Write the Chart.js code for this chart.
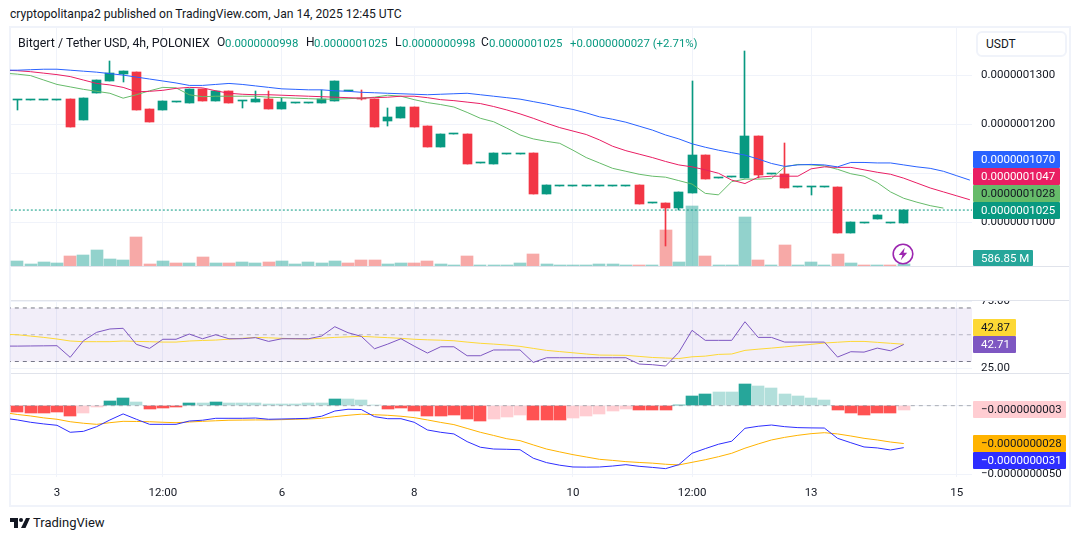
<!DOCTYPE html>
<html>
<head>
<meta charset="utf-8">
<title>Bitgert / Tether USD</title>
<script src="https://cdn.jsdelivr.net/npm/chart.js@4/dist/chart.umd.js"></script>
<style>
  html, body { margin: 0; padding: 0; background: #fff; }
  body { width: 1080px; height: 541px; position: relative; overflow: hidden; font-family: Roboto, sans-serif; color: #131722; }
  canvas { position: absolute; left: 0; }
  .abs { position: absolute; white-space: nowrap; }
  .frame { left: 9px; top: 26px; width: 1058px; height: 477px; border: 2px solid #f0f3fa; }
  .sep { position: absolute; left: 11px; width: 1058px; height: 1px; background: #e0e3eb; }
  .tag { position: absolute; left: 973px; height: 17px; line-height: 17px; padding-left: 8px; box-sizing: border-box; font-size: 11.5px; border-radius: 1px; }
  .legend { position: absolute; top: 35px; white-space: nowrap; font-size: 12px; z-index: 2; }
  .val { font-size: 11.4px; color: #089981; top: 35.5px; }
</style>
</head>
<body>
<div class="abs frame"></div>
<div class="abs" style="left:10px;top:7px;font-size:12.1px;">cryptopolitanpa2 published on TradingView.com, Jan 14, 2025 12:45 UTC</div>
<canvas id="priceChart" width="1080" height="238" style="top:28px"></canvas>
<canvas id="rsiChart" width="1080" height="72" style="top:301px"></canvas>
<canvas id="macdChart" width="1080" height="133" style="top:374px"></canvas>
<div class="legend" style="left:18px;font-size:12.4px;">Bitgert / Tether USD, 4h, POLONIEX</div>
<div class="legend" style="left:217px;">O</div><div class="legend val" style="left:225px;">0.0000000998</div>
<div class="legend" style="left:306px;">H</div><div class="legend val" style="left:314px;">0.0000001025</div>
<div class="legend" style="left:395px;">L</div><div class="legend val" style="left:402px;">0.0000000998</div>
<div class="legend" style="left:481px;">C</div><div class="legend val" style="left:489px;">0.0000001025</div>
<div class="legend val" style="left:570px;">+0.0000000027 (+2.71%)</div>
<div class="sep" style="top:266px"></div>
<div class="sep" style="top:300px"></div>
<div class="sep" style="top:373px"></div>
<div class="abs" style="left:976px;top:31px;width:91px;height:26px;box-sizing:border-box;border:2px solid #f0f3fa;border-radius:6px;font-size:12px;line-height:22px;padding-left:8px;background:#fff;">USDT</div>
<div class="tag" style="top:151px;width:87px;background:#2962ff;color:#fff;">0.0000001070</div>
<div class="tag" style="top:168px;width:87px;background:#e91e63;color:#fff;">0.0000001047</div>
<div class="tag" style="top:185px;width:87px;background:#66bb6a;color:#131722;">0.0000001028</div>
<div class="tag" style="top:202px;width:87px;background:#089981;color:#fff;">0.0000001025</div>
<div class="tag" style="top:250px;width:60px;height:16px;line-height:16px;background:#26a69a;color:#fff;">586.85 M</div>
<div class="tag" style="top:319px;width:43px;background:#fdd835;color:#131722;">42.87</div>
<div class="tag" style="top:336px;width:43px;background:#7e57c2;color:#fff;">42.71</div>
<div class="tag" style="top:401px;width:93px;background:#ffcdd2;color:#131722;">−0.0000000003</div>
<div class="tag" style="top:435px;width:93px;background:#ffb300;color:#131722;">−0.0000000028</div>
<div class="tag" style="top:452px;width:93px;background:#2e2eff;color:#fff;">−0.0000000031</div>
<svg class="abs" style="left:892px;top:243px" width="22" height="22" viewBox="0 0 22 22">
  <circle cx="11" cy="11" r="9.8" fill="#fff" stroke="#9c27b0" stroke-width="1.6"/>
  <path d="M12.8 4.8 L6.8 12 L10.4 12 L8.8 17.2 L15.2 9.8 L11.6 9.8 Z" fill="#9c27b0"/>
</svg>
<svg class="abs" style="left:10px;top:518px" width="20" height="10" viewBox="0 0 20 10">
  <path d="M0 0 H8 V10 H4 V4 H0 Z M16 0 H20 L15.5 10 H11 Z" fill="#131722"/>
  <circle cx="11" cy="2" r="2" fill="#131722"/>
</svg>
<div class="abs" style="left:33px;top:515px;font-size:13px;">TradingView</div>

<script>
// all prices and macd values are in units of 0.0000000001
const opens = [1250,1250,1250,1250,1251,1208,1264,1288,1302,1306,
  1231,1229,1246,1243,1272,1247,1267,1247,1245,1251,
  1231,1244,1244,1243,1247,1267,1254,1251,1207,1213,
  1235,1196,1154,1179,1180,1120,1119,1140,1140,1141,
  1058,1075,1075,1075,1075,1075,1075,1076,1039,1039,
  1030,1060,1137,1090,1092,1090,1176,1098,1098,1071,
  1071,1071,1072,978,998,1007,998,998];
const highs = [1250,1250,1250,1250,1251,1253,1290,1329,1308,1306,
  1231,1247,1246,1272,1272,1267,1267,1247,1267,1267,
  1253,1244,1244,1270,1288,1267,1270,1251,1233,1235,
  1235,1196,1180,1179,1180,1120,1141,1140,1140,1141,
  1076,1075,1075,1075,1075,1075,1075,1076,1039,1039,
  1062,1288,1137,1090,1092,1349,1176,1098,1161,1071,
  1071,1071,1072,1001,998,1015,998,1025];
const lows = [1229,1250,1250,1250,1195,1208,1264,1288,1286,1229,
  1204,1229,1246,1243,1247,1247,1243,1233,1245,1231,
  1231,1244,1244,1243,1247,1267,1250,1195,1197,1213,
  1195,1154,1154,1179,1119,1120,1119,1140,1140,1058,
  1058,1075,1075,1075,1075,1075,1075,1038,1039,952,
  1026,1060,1088,1090,1092,1090,1090,1098,1070,1071,
  1056,1071,978,978,998,1007,998,998];
const closes = [1250,1250,1250,1250,1195,1253,1290,1304,1308,1229,
  1204,1247,1246,1272,1247,1267,1243,1247,1251,1231,
  1245,1244,1244,1251,1288,1267,1252,1195,1214,1235,
  1195,1154,1180,1179,1119,1120,1141,1140,1140,1058,
  1076,1075,1075,1075,1075,1075,1075,1038,1039,1030,
  1062,1137,1088,1090,1092,1176,1096,1098,1070,1071,
  1071,1071,978,1001,998,1015,998,1025];
// volume in millions
const volumes = [1175,425,925,675,2425,2675,3925,1675,1425,7175,
  425,1175,675,675,2175,675,675,925,675,925,
  1175,425,925,675,1175,675,1600,1575,575,825,
  825,1325,575,325,2575,325,325,325,825,3075,
  575,325,325,325,575,575,325,325,325,9075,
  1075,15075,2575,325,325,12325,1575,325,5325,325,
  1075,325,3075,825,325,325,325,587];
const redVolumeDojis = [12,25,64,66];

// moving averages start one bar before the first candle and run past the last one
const blueLine = [1310,1310,1311,1312,1312,1310,1308,1306,1303,1300,1296,1292,1288,1284,1279,1279,1281,1283,1281,1278,
  1275,1272,1271,1270,1270,1268,1267,1265,1264,1263,1262,1261,1260,1261,1262,1263,1260,1257,1254,1251,
  1246,1241,1235,1230,1223,1215,1210,1204,1196,1188,1178,1170,1160,1153,1147,1142,1137,1129,1120,1114,
  1117,1118,1117,1113,1122,1122,1121,1121,1117,1113,1110,1104,1095,1086];
const redLine = [1310,1309,1307,1304,1301,1297,1290,1283,1280,1275,1266,1267,1269,1273,1275,1274,1268,1263,1261,1260,
  1260,1259,1258,1257,1256,1255,1254,1253,1254,1255,1257,1257,1254,1250,1248,1245,1242,1236,1229,1221,
  1212,1202,1193,1186,1179,1168,1155,1146,1139,1132,1124,1117,1113,1107,1100,1086,1079,1092,1094,1094,
  1094,1109,1113,1112,1112,1107,1102,1098,1090,1080,1070,1062,1054,1046];
const greenLine = [1304,1302,1299,1290,1281,1276,1271,1267,1263,1253,1260,1268,1275,1274,1260,1256,1257,1257,1257,1257,
  1255,1254,1253,1252,1251,1251,1252,1253,1255,1259,1257,1250,1244,1240,1235,1224,1212,1205,1192,1178,
  1170,1165,1161,1147,1132,1121,1110,1104,1098,1094,1092,1085,1078,1059,1056,1083,1088,1088,1089,1113,
  1118,1117,1115,1108,1099,1094,1081,1062,1049,1041,1034,1029];
const lastPrice = 1025;

const rsiValues = [41.5,41.5,41.6,41.7,41.8,33.1,45.5,51.8,54.3,54.8,42.8,39.8,46.6,46.6,50.5,47,50,47,47,47.8,
  45,47,47,47,49,56,51.5,48.8,39.5,43,47,41.5,36.3,41,41,34.3,34.3,38.6,38.6,38.6,
  29.3,32.8,32.8,32.8,32.8,32.8,32.8,32.8,28.1,27.6,26.6,36.8,53.3,45.8,45.8,45.8,59.7,48,48,44.5,
  44.5,44.5,44.5,33.3,37.3,37,40,38,42.7];
const rsiAverage = [50.3,50,49,48,46.8,45.3,44.8,44.8,44.8,45.3,45,44.8,44.5,44.5,45.3,45.7,46,46.7,47.3,48,
  47.7,47.3,47,46.8,47.4,48,48.4,48.8,48.3,47.8,47.3,46.6,46.2,45.9,45.5,44.5,43.6,43,42.3,41.3,
  39.8,38.3,37.4,36.5,35.6,34.8,34.7,34.6,33.8,33,32.6,32.2,33.5,34,35.3,35.6,38.3,39.2,40,40.9,
  41.8,42.8,43.8,44.4,45,45,44.3,43.6,42.9];
const rsiLevels = [70, 50, 30];

const macdHistogram = [-4.6,-5.3,-5.3,-4.6,-7.5,-5.3,-1.2,3.4,5.6,2.7,
  -2.4,-1.7,-0.9,2,2,2.7,2,2,2,1.2,
  1.2,1.2,2,2,4.9,4.9,4.2,0.7,-2.4,-1.7,
  -3.9,-7.5,-7.5,-6.8,-9.7,-11.2,-9.7,-8.2,-6.8,-10.4,
  -10.4,-10.4,-9,-7.5,-6,-3.9,-2.4,-3.1,-3.1,-3.1,
  0.4,7.1,8.5,9.7,9.7,15.8,14.4,12.9,8.4,7.1,
  5.6,4.2,-3.4,-5.6,-7.1,-5.6,-5.6,-3.4];
const macdLightBars = [5,6,9,14,16,17,18,19,20,21,22,23,25,26,27,36,37,38,42,43,44,45,46,53,54,56,57,58,59,60,61,67];
const macdLine = [-9.1,-10.4,-12.1,-13.3,-14.3,-19.4,-18.7,-15.3,-10.4,-6,-9.9,-13.6,-13.6,-13.6,-11.2,-10.6,-9.2,-9.2,-9.2,-9,
  -9.9,-9.7,-9.5,-9.2,-7.7,-3.9,-2.6,-2.8,-8,-9.5,-9.5,-12.1,-17.7,-19.4,-20.6,-26.2,-30.3,-31.6,-31.8,-32.1,
  -38.3,-41.5,-43.4,-44.7,-44.8,-44.7,-44,-43,-44.2,-45,-45.9,-43,-34.7,-31.3,-28.1,-25.9,-16.5,-15,-14.1,-15.3,
  -16,-16.2,-16.3,-23.8,-27,-30.1,-30.8,-32.3,-30.6];
const macdSignal = [-5,-6.4,-7.5,-8.9,-9.9,-11.7,-12.8,-13.6,-12.4,-11.4,-11.5,-11.7,-12.1,-12.4,-11.9,-11.4,-11,-10.6,-10.5,-10.4,
  -10.4,-10.2,-9.9,-9.7,-9.2,-8,-7,-6.2,-6.6,-7,-7.7,-8.7,-10.4,-12.2,-13.8,-16.6,-19.4,-21.7,-24.1,-25.5,
  -28.6,-31.6,-33.7,-35.7,-37.4,-39.1,-39.9,-40.8,-41.4,-41.9,-42.7,-43.2,-41.3,-39.4,-37.2,-34.7,-31,-27.9,-25,-23.1,
  -21.6,-20.4,-19.7,-20.6,-22.1,-23.8,-25,-26.5,-27.6];

const timeTicks = [3, 11, 20, 30, 42, 51, 60, 71];
const timeLabels = ['3', '12:00', '6', '8', '10', '12:00', '13', '15'];
const priceTicks = [1000, 1100, 1200, 1300];
const rsiTicks = [25, 75];
const macdTicks = [-50, 0];

const FONT = { family: 'Roboto, sans-serif', size: 11.5 };
const GRID = '#f0f3fa';
const TEXT = '#131722';
const UP = '#089981';
const DOWN = '#f23645';

// round bars to whole pixels so candles and doji dashes stay crisp
const snapBars = {
  id: 'snapBars',
  afterDatasetsUpdate(chart) {
    chart.data.datasets.forEach((ds, d) => {
      if (ds.type !== 'bar') return;
      chart.getDatasetMeta(d).data.forEach(el => {
        const w = ds.barThickness;
        el.x = Math.round(el.x - w / 2) + w / 2;
        el.y = Math.round(el.y);
        el.base = Math.round(el.base);
        if (ds.minBarLength && el.y === el.base) el.base = el.y + ds.minBarLength;
      });
    });
  }
};

function xy(values, start) {
  return values.map((y, i) => ({ x: i + start, y: y }));
}

function bars(values, thickness, colors, order, extra) {
  return Object.assign({
    type: 'bar',
    data: values.map((y, i) => ({ x: i, y: y })),
    barThickness: thickness,
    backgroundColor: colors,
    grouped: false,
    borderWidth: 0,
    borderSkipped: false,
    order: order
  }, extra || {});
}

function line(values, start, color, order, extra) {
  return Object.assign({
    type: 'line',
    data: xy(values, start),
    borderColor: color,
    borderWidth: 1,
    pointRadius: 0,
    tension: 0,
    fill: false,
    order: order
  }, extra || {});
}

function level(value, color, dash, order, extra) {
  return line([value, value], 0, color, order, Object.assign({
    data: [{ x: -2, y: value }, { x: 74, y: value }],
    borderDash: dash
  }, extra || {}));
}

function xAxis(showLabels) {
  return {
    type: 'linear',
    offset: false,
    min: -0.55,
    max: 72.16,
    afterBuildTicks: s => { s.ticks = timeTicks.map(v => ({ value: v })); },
    afterFit: s => {
      s.height = showLabels ? 30 : 0;
      s.paddingLeft = 0;
      s.paddingRight = 0;
    },
    border: { display: false },
    grid: { color: GRID, drawTicks: false, offset: false },
    ticks: {
      display: showLabels,
      autoSkip: false,
      maxRotation: 0,
      padding: 9,
      color: TEXT,
      font: FONT,
      callback: v => timeLabels[timeTicks.indexOf(v)]
    }
  };
}

function yAxis(min, max, tickList, format) {
  return {
    position: 'right',
    min: min,
    max: max,
    afterBuildTicks: s => { s.ticks = tickList.map(v => ({ value: v })); },
    afterFit: s => {
      // labels at the pane edge are simply cut off, they must not shrink the pane
      s.width = 98;
      s.paddingTop = 0;
      s.paddingBottom = 0;
    },
    border: { display: false },
    grid: { color: GRID, drawTicks: false },
    ticks: { padding: 9, color: TEXT, font: FONT, autoSkip: false, callback: format }
  };
}

function smallPrice(v) {
  const text = (Math.abs(v) * 1e-10).toFixed(10);
  return v < 0 ? '\u2212' + text : text;
}

function makeChart(id, datasets, scales) {
  return new Chart(document.getElementById(id).getContext('2d'), {
    data: { datasets: datasets },
    plugins: [snapBars],
    options: {
      responsive: false,
      animation: false,
      events: [],
      layout: { autoPadding: false, padding: { left: 10, right: 10, top: 0, bottom: 0 } },
      plugins: { legend: { display: false }, tooltip: { enabled: false } },
      scales: scales
    }
  });
}

const candleColors = closes.map((c, i) => c < opens[i] ? DOWN : UP);
const volumeColors = closes.map((c, i) =>
  (c < opens[i] || redVolumeDojis.includes(i)) ? 'rgba(239,83,80,0.5)' : 'rgba(38,166,154,0.5)');
const macdColors = macdHistogram.map((v, i) => {
  const light = macdLightBars.includes(i);
  if (v >= 0) return light ? '#b2dfdb' : '#26a69a';
  return light ? '#ffcdd2' : '#ff5252';
});

makeChart('priceChart', [
  bars(volumes, 12, volumeColors, 10, { yAxisID: 'yVol' }),
  level(lastPrice, UP, [2, 2], 9, { yAxisID: 'y' }),
  bars(lows.map((l, i) => [l, highs[i]]), 1, candleColors, 8, { yAxisID: 'y' }),
  bars(opens.map((o, i) => [o, closes[i]]), 9, candleColors, 7, { yAxisID: 'y', minBarLength: 1 }),
  line(greenLine, -1, '#66bb6a', 3, { yAxisID: 'y' }),
  line(redLine, -1, '#e91e63', 2, { yAxisID: 'y' }),
  line(blueLine, -1, '#2962ff', 1, { yAxisID: 'y' })
], {
  x: xAxis(false),
  y: yAxis(911, 1396, priceTicks, smallPrice),
  yVol: { display: false, min: 0, max: 59500 }
});

makeChart('rsiChart', [
  level(rsiLevels[0], '#787b86', [4, 4], 5, { fill: { target: { value: rsiLevels[2] } }, backgroundColor: 'rgba(126,87,194,0.1)' }),
  level(rsiLevels[1], 'rgba(120,123,134,0.5)', [4, 4], 5),
  level(rsiLevels[2], '#787b86', [4, 4], 5),
  line(rsiAverage, -1, '#fdd835', 2),
  line(rsiValues, -1, '#7e57c2', 1)
], {
  x: xAxis(false),
  y: yAxis(21.4, 75.2, rsiTicks, v => v.toFixed(2))
});

makeChart('macdChart', [
  bars(macdHistogram, 12, macdColors, 6),
  level(0, 'rgba(120,123,134,0.6)', [4, 4], 4),
  line(macdSignal, -1, '#ffb300', 2),
  line(macdLine, -1, '#2e2eff', 1)
], {
  x: xAxis(true),
  y: yAxis(-52, 23.1, macdTicks, smallPrice)
});
</script>
</body>
</html>
